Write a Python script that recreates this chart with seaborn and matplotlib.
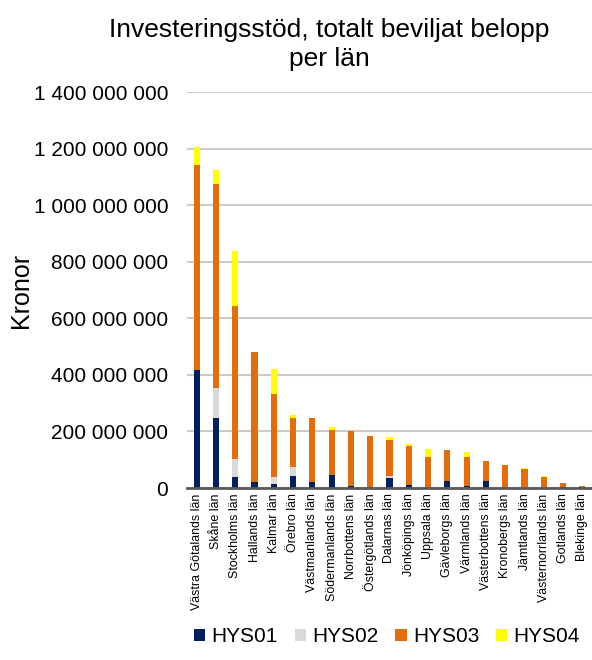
import matplotlib
matplotlib.use("Agg")
import matplotlib.pyplot as plt
import matplotlib.ticker as mticker
from matplotlib.patches import Patch
import numpy as np
import pandas as pd
import seaborn as sns

lan = ["Västra Götalands län", "Skåne län", "Stockholms län", "Hallands län",
       "Kalmar län", "Örebro län", "Västmanlands län", "Södermanlands län",
       "Norrbottens län", "Östergötlands län", "Dalarnas län", "Jönköpings län",
       "Uppsala län", "Gävleborgs län", "Värmlands län", "Västerbottens län",
       "Kronobergs län", "Jämtlands län", "Västernorrlands län", "Gotlands län",
       "Blekinge län"]

# Beviljat belopp per stödtyp (kronor)
hys01 = [418e6, 248e6, 38e6, 20e6, 13e6, 42e6, 21e6, 45e6, 8e6, 2e6, 35e6,
         11e6, 0, 26e6, 7e6, 26e6, 0, 0, 0, 2e6, 3e6]
hys02 = [0, 107e6, 66e6, 0, 27e6, 32e6, 0, 0, 0, 0, 7e6,
         0, 0, 0, 0, 0, 0, 0, 0, 0, 0]
hys03 = [724e6, 721e6, 539e6, 461e6, 292e6, 173e6, 227e6, 159e6, 194e6, 183e6, 127e6,
         139e6, 110e6, 109e6, 104e6, 70e6, 82e6, 67e6, 39e6, 14e6, 4e6]
hys04 = [64e6, 47e6, 196e6, 0, 88e6, 11e6, 0, 13e6, 0, 0, 10e6,
         4e6, 29e6, 0, 18e6, 0, 0, 3e6, 2e6, 0, 0]

serier = ["HYS01", "HYS02", "HYS03", "HYS04"]
farger = ["#002060", "#d9d9d9", "#e46c0a", "#ffff00"]

df = pd.DataFrame({"lan": lan, "HYS01": hys01, "HYS02": hys02,
                   "HYS03": hys03, "HYS04": hys04})
cum = df[serier].cumsum(axis=1)

sns.set_theme(style="white")
plt.rcParams["font.family"] = ["Liberation Sans", "DejaVu Sans"]

fig = plt.figure(figsize=(5.92, 6.6), dpi=100)
ax = fig.add_axes([187 / 592, 1 - 488 / 660, 405 / 592, 396 / 660])

# Stacked bars: draw cumulative totals from top layer down
for serie, farg in reversed(list(zip(serier, farger))):
    sns.barplot(x=df["lan"], y=cum[serie], color=farg, width=0.32,
                saturation=1, ax=ax, zorder=3, linewidth=0)

ax.set_ylim(0, 1.4e9)
ax.set_xlim(-0.5, 20.5)
ax.yaxis.set_major_locator(mticker.MultipleLocator(2e8))
ax.yaxis.set_major_formatter(
    mticker.FuncFormatter(lambda v, p: f"{int(round(v)):,}".replace(",", " ")))
ax.grid(axis="y", color="#cfccc8", linewidth=1.5, zorder=0)
ax.grid(axis="x", visible=False)
for s in ["top", "right", "left"]:
    ax.spines[s].set_visible(False)
ax.spines["bottom"].set_color("#595959")
ax.spines["bottom"].set_linewidth(2)
ax.spines["bottom"].set_zorder(4)
ax.tick_params(axis="y", length=0, labelsize=15, pad=13.5, colors="black")
ax.tick_params(axis="x", length=0, labelsize=8.9, rotation=90, pad=4, colors="black")
ax.set_xlabel("")
ax.set_ylabel("Kronor", fontsize=18, color="black")
ax.yaxis.set_label_coords((33 - 187) / 405, 0.5)

fig.text(0.556, 1 - 18 / 660, "Investeringsstöd, totalt beviljat belopp\nper län",
         ha="center", va="top", fontsize=19, linespacing=1.25, color="black")

handles = [Patch(facecolor=f, edgecolor="none", label=s) for s, f in zip(serier, farger)]
fig.legend(handles=handles, loc="center", bbox_to_anchor=(387 / 592, 1 - 637 / 660),
           ncol=4, frameon=False, fontsize=15, handlelength=0.55, handleheight=0.55,
           handletextpad=0.3, columnspacing=0.8, labelcolor="black")

fig.savefig("out.png", dpi=100)
